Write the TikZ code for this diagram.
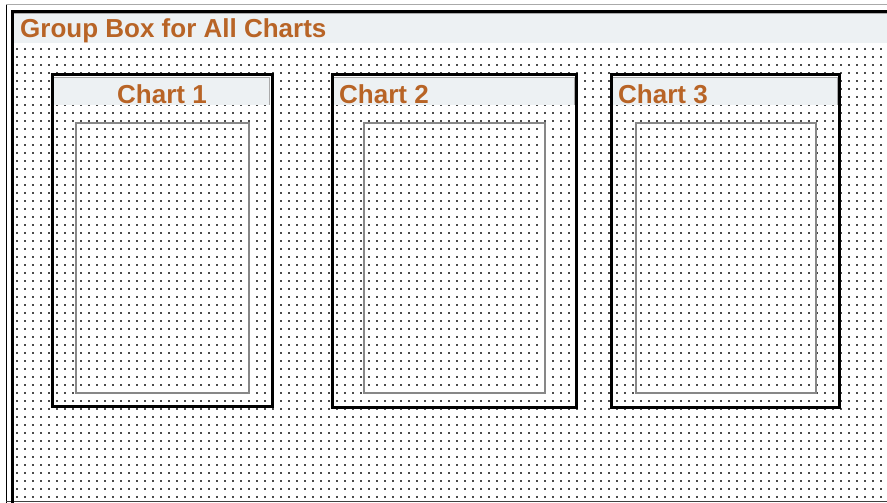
\documentclass[tikz,border=0pt]{standalone}
\usepackage{fontspec}
\setmainfont{Liberation Sans}
\definecolor{bandgray}{RGB}{237,241,243}
\definecolor{txtorange}{RGB}{184,100,38}
\definecolor{dotgray}{RGB}{75,75,75}
\definecolor{innergray}{RGB}{135,135,135}
\definecolor{edgegray}{RGB}{170,170,170}
\begin{document}
\begin{tikzpicture}[x=1pt,y=-1pt,
  titletext/.style={inner sep=0pt, text=txtorange, font=\fontsize{26}{30}\selectfont\bfseries},
  thickframe/.style={draw=black, line width=3pt},
  innerframe/.style={draw=innergray, line width=2pt},
  band/.style={fill=bandgray},
  bandedge/.style={draw=edgegray, line width=0.8pt},
  dotrow/.style={draw=dotgray, line width=2pt, dash pattern=on 2pt off 6pt}]
\useasboundingbox (0,0) rectangle (887,503);
\fill[white] (0,0) rectangle (887,503);
% dot grid
\foreach \k in {0,...,56} \draw[dotrow] (16,{49+8*\k}) -- (887,{49+8*\k});
% outer group box
\draw[edgegray, line width=1pt] (6,5) -- (887,5);
\draw[black, line width=1pt] (6,5) -- (6,503);
\draw[darkgray, line width=1pt] (6,501.5) -- (887,501.5);
\fill[band] (14,13) rectangle (887,43);
\draw[edgegray, line width=0.8pt] (14,13.6) -- (887,13.6);
\draw[thickframe] (12.5,503) -- (12.5,11.5) -- (887,11.5);
\node[titletext, anchor=base west] (title) at (20,38) {Group Box for All Charts};
% chart 1
\fill[band] (54,77) rectangle (270,105);
\draw[bandedge] (54,77.4) -- (269.6,77.4) -- (269.6,105);
\draw[innerframe] (75.5,123.3) rectangle (249,393);
\draw[thickframe] (52.5,75) rectangle (272,406.5);
\node[titletext, anchor=base] (chart1) at (162,103) {Chart 1};
% chart 2
\fill[band] (334,77) rectangle (575,105);
\draw[bandedge] (334,77.4) -- (574.6,77.4) -- (574.6,105);
\draw[innerframe] (364,123) rectangle (545.3,393);
\draw[thickframe] (332,75) rectangle (576.7,407);
\node[titletext, anchor=base west] (chart2) at (339,103) {Chart 2};
% chart 3
\fill[band] (613,77) rectangle (837.5,105);
\draw[bandedge] (613,77.4) -- (837.1,77.4) -- (837.1,105);
\draw[innerframe] (635.5,123) rectangle (816,393);
\draw[thickframe] (611.7,75) rectangle (839,407);
\node[titletext, anchor=base west] (chart3) at (618,103) {Chart 3};
\end{tikzpicture}
\end{document}
